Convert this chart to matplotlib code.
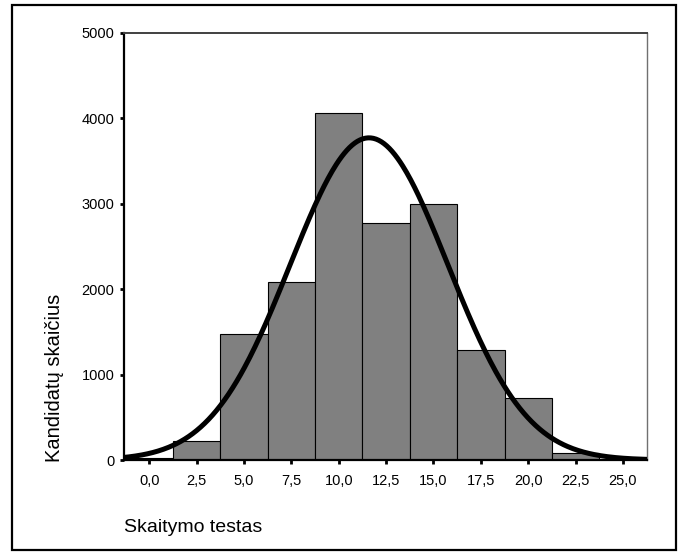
import numpy as np
import matplotlib
matplotlib.use("Agg")
import matplotlib.pyplot as plt
from matplotlib.patches import Rectangle

plt.rcParams['font.family'] = ['Liberation Sans', 'DejaVu Sans']

# histogram bins (centres) and counts
bin_centers = [0.0, 2.5, 5.0, 7.5, 10.0, 12.5, 15.0, 17.5, 20.0, 22.5]
counts = [25, 220, 1470, 2090, 4060, 2775, 3000, 1288, 722, 85]
bin_width = 2.5

# fitted normal curve parameters
curve_mean = 11.6
curve_sd = 4.16

x_ticks = [0.0, 2.5, 5.0, 7.5, 10.0, 12.5, 15.0, 17.5, 20.0, 22.5, 25.0]
x_tick_labels = ["0,0", "2,5", "5,0", "7,5", "10,0", "12,5", "15,0",
                 "17,5", "20,0", "22,5", "25,0"]
y_ticks = [0, 1000, 2000, 3000, 4000, 5000]

W, H = 683, 552
fig = plt.figure(figsize=(W / 100, H / 100), dpi=100)
ax = fig.add_axes([124 / W, 1 - 460 / H, (647 - 124) / W, (460 - 33) / H])

ax.bar(bin_centers, counts, width=bin_width, color="#808080",
       edgecolor="black", linewidth=0.8, zorder=2)

n_total = sum(counts)
xs = np.linspace(-1.5, 26.5, 400)
ys = n_total * bin_width / (curve_sd * np.sqrt(2 * np.pi)) * \
    np.exp(-0.5 * ((xs - curve_mean) / curve_sd) ** 2)
ax.plot(xs, ys, color="black", linewidth=3.6, zorder=3, solid_capstyle="round")

ax.set_xlim(-1.33, 26.27)
ax.set_ylim(0, 5000)
ax.set_xticks(x_ticks)
ax.set_xticklabels(x_tick_labels)
ax.set_yticks(y_ticks)
ax.tick_params(axis="both", labelsize=10.5, length=3, width=2, colors="black")
ax.tick_params(axis="x", pad=7)
ax.tick_params(axis="y", pad=4)

for side in ["left", "bottom"]:
    ax.spines[side].set_linewidth(1.6)
    ax.spines[side].set_color("black")
ax.spines["top"].set_linewidth(1.4)
ax.spines["top"].set_color("#404040")
ax.spines["right"].set_linewidth(1.0)
ax.spines["right"].set_color("#707070")

fig.text(55 / W, 1 - 462 / H, "Kandidatų skaičius", rotation=90,
         ha="center", va="bottom", fontsize=14.5)
fig.text(124 / W, 1 - 532 / H, "Skaitymo testas", ha="left",
         va="baseline", fontsize=14)

# outer frame around the whole chart
fig.patches.append(Rectangle((12 / W, 1 - 550 / H), 664 / W, 545 / H,
                             transform=fig.transFigure, fill=False,
                             edgecolor="black", linewidth=1.6))

fig.savefig("out.png", dpi=100)
